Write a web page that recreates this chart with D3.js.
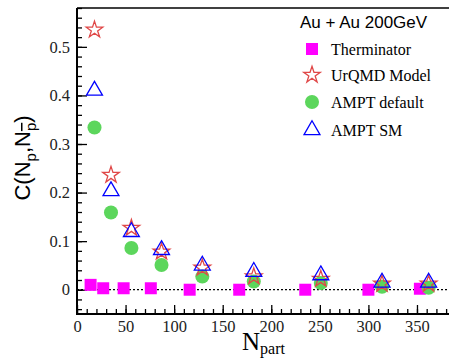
<!DOCTYPE html>
<html>
<head>
<meta charset="utf-8">
<script src="https://cdn.jsdelivr.net/npm/d3@7"></script>
<style>
  body { margin: 0; background: #fff; }
  svg { display: block; }
</style>
</head>
<body>
<svg id="chart" width="449" height="360"></svg>
<script>
// values
var npartTherm = [14, 27, 48, 76, 116, 167, 235, 300, 353];
var therminator = [0.010, 0.003, 0.003, 0.003, 0.000, 0.000, 0.000, 0.000, 0.002];

var npartModel = [18, 35, 56, 87, 129, 182, 251, 314, 362];
var urqmd = [0.535, 0.236, 0.127, 0.078, 0.045, 0.027, 0.022, 0.012, 0.012];
var amptDefault = [0.334, 0.159, 0.086, 0.051, 0.027, 0.017, 0.014, 0.006, 0.004];
var amptSM = [0.410, 0.203, 0.119, 0.082, 0.050, 0.037, 0.030, 0.015, 0.015];

var xTicks = [0, 50, 100, 150, 200, 250, 300, 350];
var yTicks = [0, 0.1, 0.2, 0.3, 0.4, 0.5];
var yTickLabels = ["0", "0.1", "0.2", "0.3", "0.4", "0.5"];

var serif = "'Liberation Serif', 'Times New Roman', serif";
var sans = "'Liberation Sans', Arial, sans-serif";

var svg = d3.select("#chart"),
  plotLeft = 77, plotTop = 8, plotBottom = 314, plotRight = 450;

var x = d3.scaleLinear().domain([0, 384]).range([plotLeft, plotRight]),
  y = d3.scaleLinear().domain([-0.05, 0.58]).range([plotBottom, plotTop]);

// minor ticks
svg.append("g")
  .attr("transform", "translate(0," + plotBottom + ")")
  .call(d3.axisBottom(x).tickValues(d3.range(0, 381, 10)).tickSize(-5).tickFormat(""))
  .call(function (g) { g.select(".domain").remove(); g.selectAll("line").attr("stroke-width", 1.3); });

svg.append("g")
  .attr("transform", "translate(" + plotLeft + ",0)")
  .call(d3.axisLeft(y).tickValues(d3.range(-0.04, 0.581, 0.02)).tickSize(-5).tickFormat(""))
  .call(function (g) { g.select(".domain").remove(); g.selectAll("line").attr("stroke-width", 1.3); });

// major ticks + labels
svg.append("g")
  .attr("transform", "translate(0," + plotBottom + ")")
  .call(d3.axisBottom(x).tickValues(xTicks).tickSize(-9).tickSizeOuter(0).tickPadding(6))
  .call(function (g) {
    g.select(".domain").remove();
    g.selectAll("line").attr("stroke-width", 1.3);
    g.selectAll("text").attr("font-family", null)
      .style("font-family", serif).style("font-size", "16.5px").attr("fill", "#222");
  });

svg.append("g")
  .attr("transform", "translate(" + plotLeft + ",0)")
  .call(d3.axisLeft(y).tickValues(yTicks).tickSize(-10).tickSizeOuter(0).tickPadding(7)
    .tickFormat(function (d, i) { return yTickLabels[i]; }))
  .call(function (g) {
    g.select(".domain").remove();
    g.selectAll("line").attr("stroke-width", 1.3);
    g.selectAll("text").style("font-family", serif).style("font-size", "16.5px").attr("fill", "#222");
  });

// frame
svg.append("line").attr("x1", plotLeft).attr("x2", 449).attr("y1", plotTop).attr("y2", plotTop)
  .attr("stroke", "#000").attr("stroke-width", 1.5);
svg.append("line").attr("x1", plotLeft).attr("x2", 449).attr("y1", plotBottom).attr("y2", plotBottom)
  .attr("stroke", "#000").attr("stroke-width", 2);
svg.append("line").attr("x1", plotLeft).attr("x2", plotLeft).attr("y1", plotTop).attr("y2", plotBottom + 1)
  .attr("stroke", "#000").attr("stroke-width", 2);

// zero line
svg.append("line")
  .attr("x1", plotLeft).attr("x2", 449).attr("y1", y(0)).attr("y2", y(0))
  .attr("stroke", "#000").attr("stroke-width", 1.2).attr("stroke-dasharray", "2,2");

var sq = d3.symbol().type(d3.symbolSquare).size(144)(),
  circ = d3.symbol().type(d3.symbolCircle).size(155)(),
  star = d3.symbol().type(d3.symbolStar).size(85)(),
  tri = d3.symbol().type(d3.symbolTriangle).size(110)();

function drawSeries(xs, ys, path, fill, stroke) {
  svg.append("g")
    .selectAll("path")
    .data(ys)
    .enter()
    .append("path")
    .attr("d", path)
    .attr("transform", function (d, i) { return "translate(" + x(xs[i]) + "," + y(d) + ")"; })
    .attr("fill", fill)
    .attr("stroke", stroke)
    .attr("stroke-width", 1.3);
}

drawSeries(npartTherm, therminator, sq, "#ff00ff", "none");
drawSeries(npartModel, amptDefault, circ, "#5cd65c", "none");
drawSeries(npartModel, urqmd, star, "none", "#e04848");
drawSeries(npartModel, amptSM, tri, "none", "#0000ff");

// legend
svg.append("text")
  .attr("x", 300).attr("y", 28)
  .style("font-family", sans).style("font-size", "17px")
  .text("Au + Au 200GeV");

var legendNames = ["Therminator", "UrQMD Model", "AMPT default", "AMPT SM"];
var legendY = [49, 75, 102, 130];
var legendShapes = [
  [sq, "#ff00ff", "none"],
  [star, "none", "#e04848"],
  [circ, "#5cd65c", "none"],
  [tri, "none", "#0000ff"]
];

legendNames.forEach(function (name, i) {
  svg.append("path")
    .attr("d", legendShapes[i][0])
    .attr("transform", "translate(312," + legendY[i] + ")")
    .attr("fill", legendShapes[i][1])
    .attr("stroke", legendShapes[i][2])
    .attr("stroke-width", 1.3);
  svg.append("text")
    .attr("x", 331).attr("y", legendY[i] + 5.5)
    .style("font-family", serif).style("font-size", "16px")
    .text(name);
});

// Y label
var yl = svg.append("text")
  .attr("text-anchor", "middle")
  .attr("transform", "translate(30,158)rotate(-90)")
  .style("font-family", sans).style("font-size", "22px");
yl.append("tspan").text("C(N");
yl.append("tspan").attr("dy", 6).style("font-size", "15px").text("p");
yl.append("tspan").attr("dy", -6).text(",N");
yl.append("tspan").attr("dy", 6).style("font-size", "15px").style("text-decoration", "overline").text("p");
yl.append("tspan").attr("dy", -6).text(")");

// X label
var xl = svg.append("text")
  .attr("x", 242).attr("y", 350)
  .style("font-family", serif).style("font-size", "25px");
xl.append("tspan").text("N");
xl.append("tspan").attr("dy", 4).style("font-size", "16px").text("part");
</script>
</body>
</html>
